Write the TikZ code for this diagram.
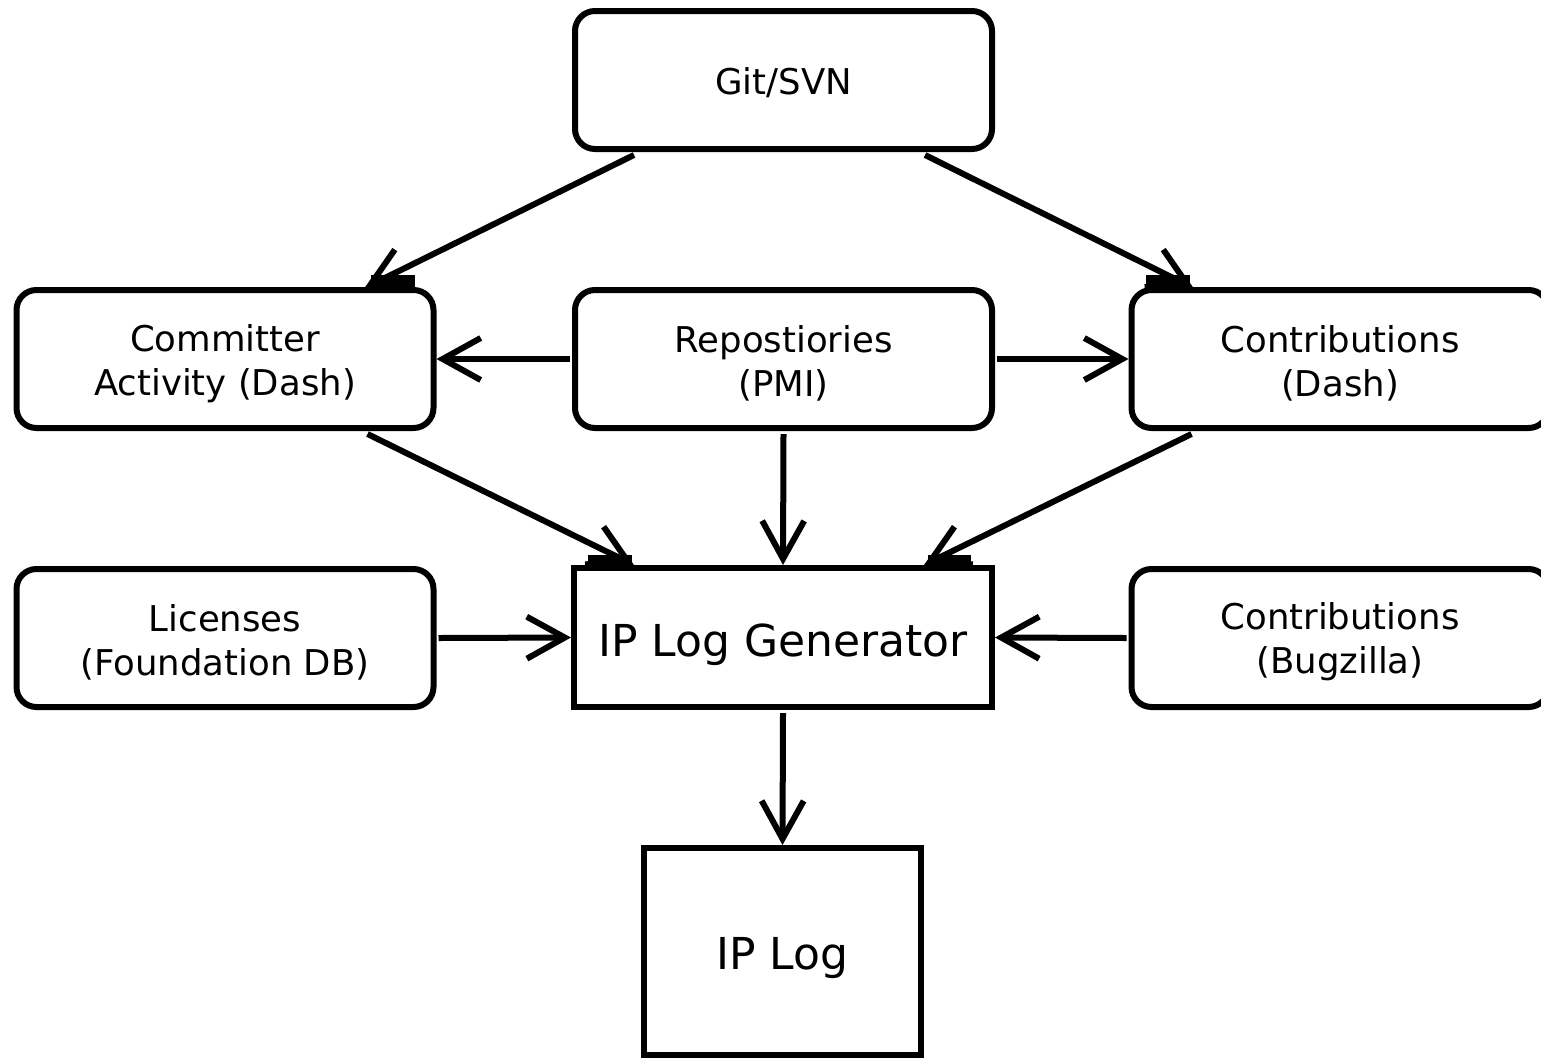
\documentclass[tikz,border=0pt]{standalone}
\usepackage{fontspec}
\setmainfont{DejaVu Sans}
\usetikzlibrary{arrows.meta,calc}
\begin{document}
\begin{tikzpicture}[x=1pt,y=-1pt,
  box/.style={line width=6pt, draw=black, inner sep=0pt},
  rbox/.style={box, rounded corners=20pt, minimum width=417pt, minimum height=138pt},
  sbox/.style={box, minimum width=418pt, minimum height=139pt},
  small/.style={inner sep=0pt, align=center, font=\fontsize{35.5}{44}\selectfont},
  big/.style={inner sep=0pt, align=center, font=\fontsize{44}{52}\selectfont},
  conn/.style={line width=6pt, -{Straight Barb[length=38pt,width=42pt,sharp]}},
]
\useasboundingbox (0,0) rectangle (1541,1058);
\node[rbox] (git) at (783.5,80) {};
\node[rbox] (comm) at (225,359) {};
\node[rbox] (repo) at (783.5,359) {};
\node[rbox] (cdash) at (1340,359) {};
\node[rbox] (lic) at (225,638) {};
\node[sbox] (gen) at (783,637.5) {};
\node[rbox] (bugz) at (1340,638) {};
\node[sbox, minimum width=277pt, minimum height=207pt] (iplog) at (782.5,951.5) {};

\node[small] (gitt) at ($(git)+(0,3)$) {Git/SVN};
\node[small] (commt) at ($(comm)+(0,5)$) {Committer\\Activity (Dash)};
\node[small] (repot) at ($(repo)+(0,4)$) {Repostiories\\(PMI)};
\node[small] (cdasht) at ($(cdash)+(0,4)$) {Contributions\\(Dash)};
\node[small] (lict) at ($(lic)+(0,4)$) {Licenses\\(Foundation DB)};
\node[big] (gent) at ($(gen)+(0,7)$) {IP Log Generator};
\node[small] (bugzt) at ($(bugz)+(0,4)$) {Contributions\\(Bugzilla)};
\node[big] (iplogt) at ($(iplog)+(0,7)$) {IP Log};

\draw[conn] ($(git.south west)+(62,3)$) -- ($(comm.north west)+(351,1)$);
\draw[conn] ($(git.south west)+(353,3)$) -- ($(cdash.north west)+(65,1)$);
\draw[conn] ($(repo.west)+(-2,0)$) -- ($(comm.east)+(0,0)$);
\draw[conn] ($(repo.east)+(2,0)$) -- ($(cdash.west)+(0,0)$);
\draw[conn] ($(comm.south west)+(354,3)$) -- ($(gen.north west)+(63,0)$);
\draw[conn] ($(repo.south)+(0,3)$) -- ($(gen.north)+(0,0)$);
\draw[conn] ($(cdash.south west)+(63,3)$) -- ($(gen.north west)+(353,0)$);
\draw[conn] ($(lic.east)+(2,0)$) -- ($(gen.west)+(0,0)$);
\draw[conn] ($(bugz.west)+(-2,0)$) -- ($(gen.east)+(0,0)$);
\draw[conn] ($(gen.south)+(0,3)$) -- ($(iplog.north)+(0,0)$);

\fill ($(comm.north west)+(357,-12)$) rectangle ($(comm.north west)+(401,0)$);
\fill ($(cdash.north west)+(17,-12)$) rectangle ($(cdash.north west)+(61,0)$);
\fill ($(gen.north west)+(17,-10)$) rectangle ($(gen.north west)+(61,0)$);
\fill ($(gen.north west)+(357,-10)$) rectangle ($(gen.north west)+(400,0)$);
\end{tikzpicture}
\end{document}
